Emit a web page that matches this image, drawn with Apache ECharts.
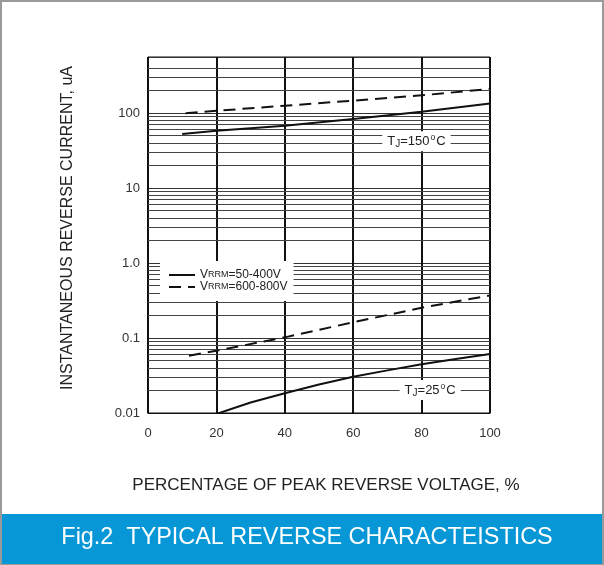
<!DOCTYPE html>
<html>
<head>
<meta charset="utf-8">
<script src="https://cdn.jsdelivr.net/npm/echarts@6/dist/echarts.min.js"></script>
<style>
html,body{margin:0;padding:0;background:#fff;}
#chart{width:604px;height:565px;}
</style>
</head>
<body>
<div id="chart"></div>
<script>
// ---- data ----
var xTicks = [0, 20, 40, 60, 80, 100];
var yTickLabels = ['0.01', '0.1', '1.0', '10', '100'];
var minorGridValues = [0.02,0.03,0.04,0.05,0.06,0.07,0.08,0.09,
  0.2,0.3,0.4,0.5,0.6,0.7,0.8,0.9,
  2,3,4,5,6,7,8,9,
  20,30,40,50,60,70,80,90,
  200,300,400];
// TJ = 150 C
var solid150 = [[10, 52.5], [20, 58], [40, 67.7], [60, 83], [80, 104], [100, 134]];
var dashed150 = [[11, 99], [20, 107], [40, 125], [60, 146], [80, 172], [100, 209]];
// TJ = 25 C
var solid25 = [[20, 0.0097], [30, 0.0138], [40, 0.0183], [50, 0.024], [60, 0.0305], [70, 0.037], [80, 0.0446], [90, 0.0525], [100, 0.061]];
var dashed25 = [[12, 0.058], [20, 0.0676], [40, 0.102], [60, 0.162], [80, 0.253], [100, 0.37]];
var seriesNames = ['VRRM=50-400V', 'VRRM=600-800V'];
var tjLabels = [
  {text: '{n|T}{s|J}{n|=150}{u|o}{n|C}', coord: [78.5, 42]},
  {text: '{n|T}{s|J}{n|=25}{u|o}{n|C}', coord: [82.5, 0.0203]}
];
var xName = 'PERCENTAGE OF PEAK REVERSE VOLTAGE, %';
var yName = 'INSTANTANEOUS REVERSE CURRENT, uA';
var title = 'Fig.2  TYPICAL REVERSE CHARACTEISTICS';

var FONT = '"Liberation Sans", Arial, sans-serif';
var chart = echarts.init(document.getElementById('chart'), null, {renderer: 'canvas'});

function yLabel(v) {
  var l = Math.log10(v);
  var r = Math.round(l);
  if (Math.abs(l - r) > 1e-6 || r < -2 || r > 2) return '';
  return yTickLabels[r + 2];
}

var richText = {
  n: {fontSize: 13, color: '#222', fontFamily: FONT},
  s: {fontSize: 10, color: '#222', fontFamily: FONT, padding: [5, 0, 0, 0]},
  u: {fontSize: 8.5, color: '#222', fontFamily: FONT, padding: [0, 1, 8, 1]}
};

var curveLine = function (dashed) {
  return {color: '#111', width: 2, type: dashed ? [12, 7] : 'solid'};
};

var option = {
  animation: false,
  backgroundColor: '#fff',
  grid: {left: 148, right: 114, top: 57, bottom: 152, show: true, borderColor: '#111', borderWidth: 1, backgroundColor: '#fff'},
  legend: {
    data: seriesNames,
    orient: 'vertical',
    left: 160, top: 261,
    itemWidth: 26, itemHeight: 10, itemGap: 0,
    backgroundColor: '#fff',
    padding: [8, 6, 8, 8],
    itemStyle: {opacity: 0},
    formatter: function (name) {
      return '{n|V}{c|RRM}{n|' + name.slice(4) + '}';
    },
    textStyle: {
      fontFamily: FONT,
      rich: {
        n: {fontSize: 12, color: '#222', fontFamily: FONT},
        c: {fontSize: 9, color: '#222', fontFamily: FONT}
      }
    }
  },
  xAxis: {
    type: 'value', min: 0, max: 100, interval: 20,
    name: xName, nameLocation: 'middle', nameGap: 64,
    nameTextStyle: {fontSize: 17, color: '#222', fontFamily: FONT, padding: [0, 0, 0, 14]},
    axisLine: {show: true, lineStyle: {color: '#111', width: 1}},
    axisTick: {show: false},
    axisLabel: {fontSize: 13, color: '#333', fontFamily: FONT, margin: 14},
    splitLine: {show: true, lineStyle: {color: '#111', width: 2}}
  },
  yAxis: {
    type: 'log', logBase: 10, min: 0.01, max: 558,
    name: yName, nameLocation: 'middle', nameGap: 72,
    nameTextStyle: {fontSize: 16, color: '#222', fontFamily: FONT, padding: [0, 0, 0, 14]},
    axisLine: {show: true, lineStyle: {color: '#111', width: 1}},
    axisTick: {show: false},
    axisLabel: {fontSize: 13, color: '#333', fontFamily: FONT, margin: 8, formatter: yLabel, showMaxLabel: true},
    splitLine: {show: true, lineStyle: {color: '#333', width: 1}}
  },
  series: [
    {
      type: 'line', data: [], z: 1, silent: true,
      markLine: {
        z: 1,
        silent: true, symbol: ['none', 'none'], animation: false,
        label: {show: false},
        lineStyle: {color: '#444', width: 1, type: 'solid'},
        emphasis: {disabled: true},
        data: minorGridValues.map(function (v) { return {yAxis: v}; })
      }
    },
    {name: seriesNames[0], type: 'line', data: solid150, symbol: 'none', z: 3, lineStyle: curveLine(false), itemStyle: {color: '#111'},
      markPoint: {
        symbol: 'rect', symbolSize: 1, itemStyle: {color: 'rgba(0,0,0,0)'},
        label: {show: true, position: 'inside', backgroundColor: '#fff', padding: [2, 5, 1, 5], formatter: function (p) { return p.name; }, rich: richText},
        data: [{name: tjLabels[0].text, coord: tjLabels[0].coord}, {name: tjLabels[1].text, coord: tjLabels[1].coord}]
      }
    },
    {name: seriesNames[1], type: 'line', data: dashed150, symbol: 'none', z: 3, lineStyle: curveLine(true), itemStyle: {color: '#111'}},
    {name: seriesNames[0], type: 'line', data: solid25, symbol: 'none', z: 3, lineStyle: curveLine(false), itemStyle: {color: '#111'}},
    {name: seriesNames[1], type: 'line', data: dashed25, symbol: 'none', z: 3, lineStyle: curveLine(true), itemStyle: {color: '#111'}}
  ],
  graphic: [
    {type: 'rect', z: 0, shape: {x: 1, y: 1, width: 602, height: 563}, style: {fill: 'none', stroke: '#9a9a9a', lineWidth: 2}},
    {type: 'rect', z: 10, shape: {x: 2, y: 514, width: 600, height: 50}, style: {fill: '#0797d7'}},
    {type: 'text', z: 11, x: 307, y: 538, style: {text: title, fill: '#fff', fontSize: 23.4, fontFamily: FONT, align: 'center', verticalAlign: 'middle'}}
  ]
};
chart.setOption(option);
</script>
</body>
</html>
